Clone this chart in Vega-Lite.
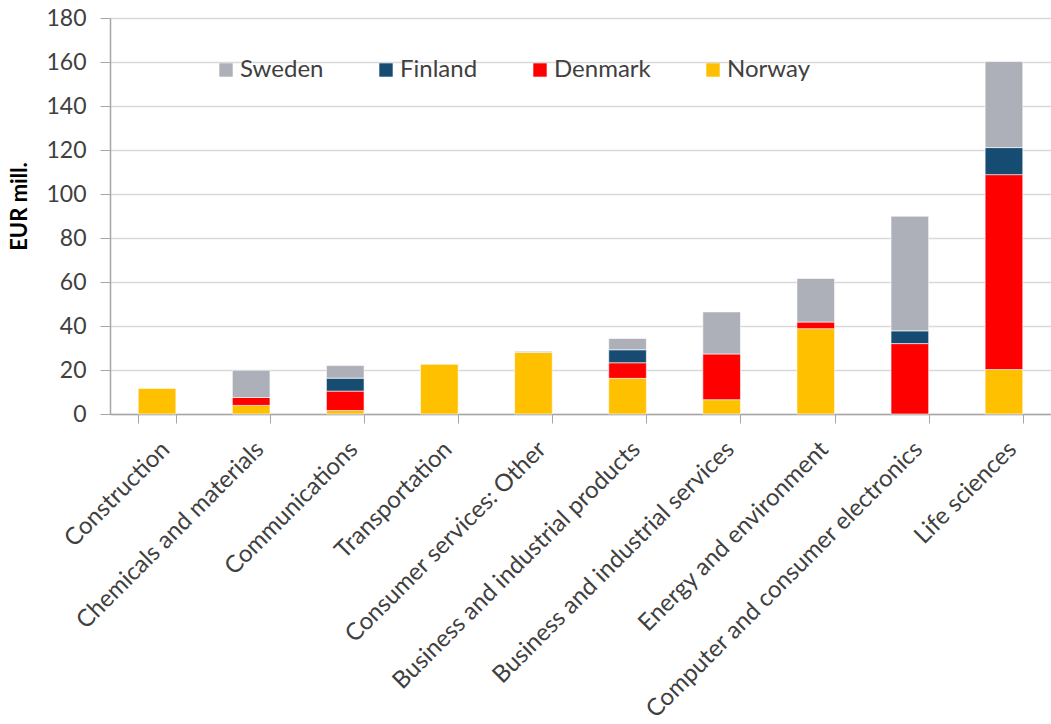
{
  "$schema": "https://vega.github.io/schema/vega-lite/v6.json",
  "width": 941,
  "height": 396,
  "autosize": {"type": "none"},
  "padding": {"left": 110, "top": 18, "right": 0, "bottom": 310},
  "background": "white",
  "config": {
    "view": {"stroke": null},
    "font": "Lato"
  },
  "data": {
    "values": [
      {"sector": "Construction", "country": "Norway", "ord": 1, "value": 11.6},
      {"sector": "Chemicals and materials", "country": "Norway", "ord": 1, "value": 3.9},
      {"sector": "Chemicals and materials", "country": "Denmark", "ord": 2, "value": 3.6},
      {"sector": "Chemicals and materials", "country": "Sweden", "ord": 4, "value": 12.4},
      {"sector": "Communications", "country": "Norway", "ord": 1, "value": 1.6},
      {"sector": "Communications", "country": "Denmark", "ord": 2, "value": 8.8},
      {"sector": "Communications", "country": "Finland", "ord": 3, "value": 5.9},
      {"sector": "Communications", "country": "Sweden", "ord": 4, "value": 5.7},
      {"sector": "Transportation", "country": "Norway", "ord": 1, "value": 22.6},
      {"sector": "Consumer services: Other", "country": "Norway", "ord": 1, "value": 28.0},
      {"sector": "Consumer services: Other", "country": "Sweden", "ord": 4, "value": 0.5},
      {"sector": "Business and industrial products", "country": "Norway", "ord": 1, "value": 16.2},
      {"sector": "Business and industrial products", "country": "Denmark", "ord": 2, "value": 7.1},
      {"sector": "Business and industrial products", "country": "Finland", "ord": 3, "value": 5.9},
      {"sector": "Business and industrial products", "country": "Sweden", "ord": 4, "value": 5.1},
      {"sector": "Business and industrial services", "country": "Norway", "ord": 1, "value": 6.5},
      {"sector": "Business and industrial services", "country": "Denmark", "ord": 2, "value": 20.8},
      {"sector": "Business and industrial services", "country": "Sweden", "ord": 4, "value": 19.1},
      {"sector": "Energy and environment", "country": "Norway", "ord": 1, "value": 38.8},
      {"sector": "Energy and environment", "country": "Denmark", "ord": 2, "value": 3.0},
      {"sector": "Energy and environment", "country": "Sweden", "ord": 4, "value": 19.8},
      {"sector": "Computer and consumer electronics", "country": "Denmark", "ord": 2, "value": 32.0},
      {"sector": "Computer and consumer electronics", "country": "Finland", "ord": 3, "value": 5.8},
      {"sector": "Computer and consumer electronics", "country": "Sweden", "ord": 4, "value": 52.1},
      {"sector": "Life sciences", "country": "Norway", "ord": 1, "value": 20.2},
      {"sector": "Life sciences", "country": "Denmark", "ord": 2, "value": 88.6},
      {"sector": "Life sciences", "country": "Finland", "ord": 3, "value": 12.3},
      {"sector": "Life sciences", "country": "Sweden", "ord": 4, "value": 39.1}
    ]
  },
  "mark": {"type": "bar", "stroke": "white", "strokeWidth": 0.6},
  "encoding": {
    "x": {
      "field": "sector",
      "type": "nominal",
      "sort": null,
      "scale": {"paddingInner": 0.6, "paddingOuter": 0.3},
      "axis": {
        "title": null,
        "labelAngle": -45,
        "labelFontSize": 24,
        "labelColor": "#404040",
        "labelFont": "Lato",
        "labelLimit": 500,
        "labelPadding": 14,
        "tickBand": "extent",
        "ticks": true,
        "tickSize": 9,
        "tickColor": "#A6A6A6",
        "domainColor": "#A6A6A6",
        "domainWidth": 1.5,
        "grid": false
      }
    },
    "y": {
      "field": "value",
      "type": "quantitative",
      "stack": "zero",
      "scale": {"domain": [0, 180], "nice": false},
      "axis": {
        "title": "EUR mill.",
        "titleFontSize": 22,
        "titleFontWeight": "bold",
        "titleColor": "#000000",
        "titlePadding": 14,
        "titleY": 188,
        "values": [0, 20, 40, 60, 80, 100, 120, 140, 160, 180],
        "labelFontSize": 23,
        "labelColor": "#404040",
        "labelPadding": 14,
        "tickSize": 10,
        "tickColor": "#A6A6A6",
        "domainColor": "#A6A6A6",
        "domainWidth": 1.5,
        "gridColor": "#D9D9D9",
        "gridWidth": 1.5
      }
    },
    "color": {
      "field": "country",
      "type": "nominal",
      "scale": {
        "domain": ["Sweden", "Finland", "Denmark", "Norway"],
        "range": ["#ADB0B8", "#164C72", "#FF0000", "#FFC000"]
      },
      "legend": {
        "title": null,
        "orient": "none",
        "legendX": 104,
        "legendY": 40,
        "direction": "horizontal",
        "columns": 4,
        "columnPadding": 50,
        "symbolType": "square",
        "symbolSize": 180,
        "symbolStrokeWidth": 0,
        "symbolOpacity": 1,
        "labelFontSize": 24,
        "labelColor": "#404040",
        "labelOffset": 2
      }
    },
    "order": {"field": "ord", "type": "quantitative"}
  }
}
